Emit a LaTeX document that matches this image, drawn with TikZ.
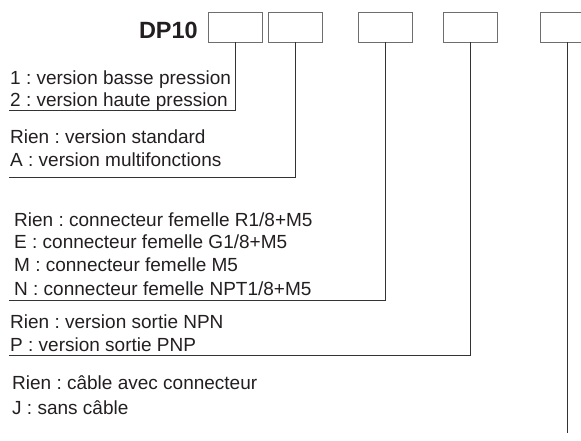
\documentclass[tikz,border=0pt]{standalone}
\usepackage{fontspec}
\setmainfont{Liberation Sans}
\definecolor{ink}{HTML}{231F20}
\definecolor{rule}{HTML}{333333}
\definecolor{frame}{HTML}{6E6E6E}
\tikzset{
  optbox/.style={draw=frame,line width=0.9pt,minimum width=54pt,minimum height=30pt,inner sep=0pt},
  optlabel/.style={anchor=base west,inner sep=0pt,text=ink,font=\fontsize{19}{23}\selectfont\frenchspacing},
  leader/.style={draw=rule,line width=0.9pt}
}
\begin{document}
\begin{tikzpicture}[x=1pt,y=-1pt]
\clip (0,0) rectangle (581,441);
% reference code and option boxes
\node[anchor=base east,inner sep=0pt,text=ink,font=\bfseries\fontsize{23.5}{28}\selectfont] (code) at (198,39) {DP10};
\node[optbox] (b1) at (235.5,27) {};
\node[optbox] (b2) at (295,27) {};
\node[optbox] (b3) at (385,27) {};
\node[optbox] (b4) at (470.5,27) {};
\node[optbox] (b5) at (567,27) {};
% pressure
\node[optlabel] (p1) at (10,85) {1 : version basse pression};
\node[optlabel] (p2) at (10,107) {2 : version haute pression};
% function
\node[optlabel] (f1) at (10,143) {Rien : version standard};
\node[optlabel] (f2) at (10,167) {A : version multifonctions};
% connector
\node[optlabel] (c1) at (14,226) {Rien : connecteur femelle R1/8+M5};
\node[optlabel] (c2) at (14,248) {E : connecteur femelle G1/8+M5};
\node[optlabel] (c3) at (14,271) {M : connecteur femelle M5};
\node[optlabel] (c4) at (14,295) {N : connecteur femelle NPT1/8+M5};
% output
\node[optlabel] (o1) at (10,328) {Rien : version sortie NPN};
\node[optlabel] (o2) at (10,351) {P : version sortie PNP};
% cable
\node[optlabel] (k1) at (12,389) {Rien : câble avec connecteur};
\node[optlabel] (k2) at (12,414) {J : sans câble};
% leaders
\coordinate (e1) at (9,110);
\coordinate (e2) at (9,177);
\coordinate (e3) at (9,300);
\coordinate (e4) at (9,355);
\coordinate (e5) at (567,433);
\draw[leader] (b1.south) |- (e1);
\draw[leader] (b2.south) |- (e2);
\draw[leader] (b3.south) |- (e3);
\draw[leader] (b4.south) |- (e4);
\draw[leader] (b5.south) -- (e5);
\end{tikzpicture}
\end{document}
